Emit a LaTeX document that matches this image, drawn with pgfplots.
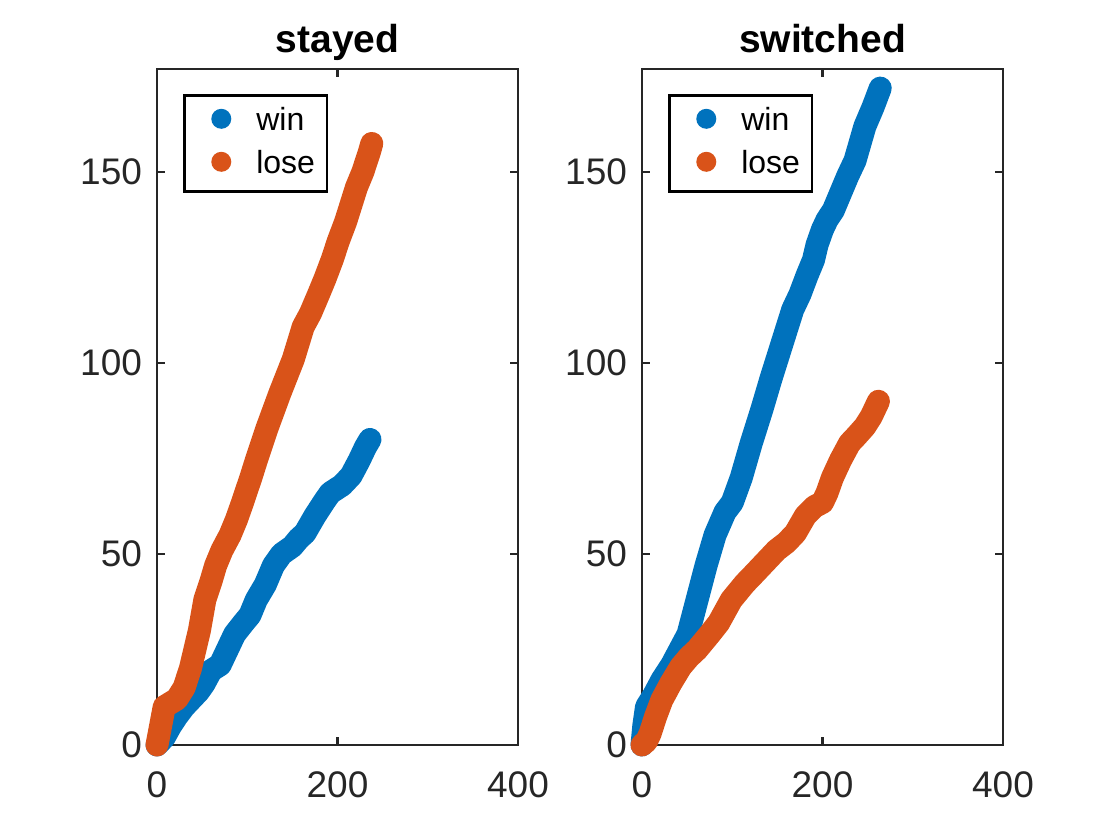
\documentclass[border=0pt]{standalone}
\usepackage{fontspec}
\setmainfont{Liberation Sans}
\usepackage{pgfplots}
\pgfplotsset{compat=1.18}
\definecolor{mblue}{RGB}{0,114,189}
\definecolor{morange}{RGB}{217,83,25}
\definecolor{axgray}{RGB}{38,38,38}
\pgfplotsset{
  dat/.style={line width=11.5pt, line cap=round, line join=round, mark=none},
  limg/.style={legend image code/.code={\path[draw=none,fill=none] (0pt,-5pt) rectangle (30pt,5pt); \fill[#1,draw=none] (14pt,1.5pt) circle (5pt);}},
  mstyle/.style={
    scale only axis, width=180.5pt, height=338pt,
    xmin=0,xmax=400,ymin=0,ymax=177,
    xtick={0,200,400}, ytick={0,50,100,150},
    tick align=inside, major tick length=4pt,
    axis line style={axgray, line width=1.3pt},
    every tick/.style={axgray, line width=1.3pt},
    tick label style={font=\fontsize{18.5}{22}\selectfont, text=axgray},
    /pgf/number format/assume math mode=true,
    xticklabel style={yshift=-10pt},
    yticklabel style={xshift=-4pt},
    title style={font=\bfseries\fontsize{19.5}{22}\selectfont, at={(0.5,1)}, anchor=base, yshift=2pt},
    clip=false,
    legend style={at={(0.072,0.963)}, anchor=north west, draw=black, line width=1.3pt,
      inner xsep=4.5pt, inner ysep=4.5pt, font=\fontsize{16}{19}\selectfont, row sep=4pt,
      nodes={inner sep=1.5pt, text height=11.5pt, text depth=3pt}},
    legend cell align=left,
  }
}
\begin{document}
\begin{tikzpicture}
\useasboundingbox (0,0) rectangle (557.5pt,414.5pt);
\begin{axis}[mstyle, at={(78.5pt,42pt)}, anchor=south west, title={stayed}]
\addlegendimage{limg=mblue}
\addlegendentry{win}
\addlegendimage{limg=morange}
\addlegendentry{lose}
\addplot[dat, mblue, forget plot] coordinates {(0,0) (8,2) (15,5) (22,7.5) (30,10) (38,12) (46,14) (52,16) (60,19.5) (70,21) (78,25) (86,29) (96,32) (103,34) (110,38) (120,42) (129,47) (138,50) (150,52) (157,54) (164,55.5) (175,60) (186,64) (192,66) (205,68) (215,70.5) (224,74.5) (231,78) (236,80)};
\addplot[dat, morange, forget plot] coordinates {(0,0) (4,5) (8,10) (15,11) (22,12) (30,15) (37,20) (42,25) (47,30) (53,38) (60,43) (65,47) (72,51) (81,55) (88,59) (94,63) (104,70) (110,74.5) (122,83) (136,92) (151,101) (162,109.5) (170,113) (179,118) (186,122) (194,127) (201,132) (209,137) (221,146) (228,150) (235,155) (238,157.5)};
\end{axis}
\begin{axis}[mstyle, at={(321pt,42pt)}, anchor=south west, title={switched}]
\addlegendimage{limg=mblue}
\addlegendentry{win}
\addlegendimage{limg=morange}
\addlegendentry{lose}
\addplot[dat, mblue, forget plot] coordinates {(0,0) (2,5) (5,10) (13,13) (22,17) (33,21) (42,25) (51,29) (61,38) (71,47) (81,55) (92,61) (100,63.5) (110,70) (121,79) (133,88) (143,96) (155,105) (167,114) (175,118) (183,123) (190,127) (194,131) (200,135) (205,137.5) (212,140) (220,144.5) (228,149) (236,153) (247,162) (256,167) (264,172)};
\addplot[dat, morange, forget plot] coordinates {(0,0) (5,1) (9,3) (15,7.4) (22,11.8) (32,16.2) (43,20.5) (52,23) (61,25) (75,29) (85,32) (92,35) (99,38) (114,42.3) (125,45) (133,47) (149,51) (160,53) (170,55.5) (181,60) (191,62.4) (200,63.5) (205,66) (211,70) (220,74.6) (230,79) (238,81) (247,83.4) (254,86) (262,90)};
\end{axis}
\end{tikzpicture}
\end{document}
